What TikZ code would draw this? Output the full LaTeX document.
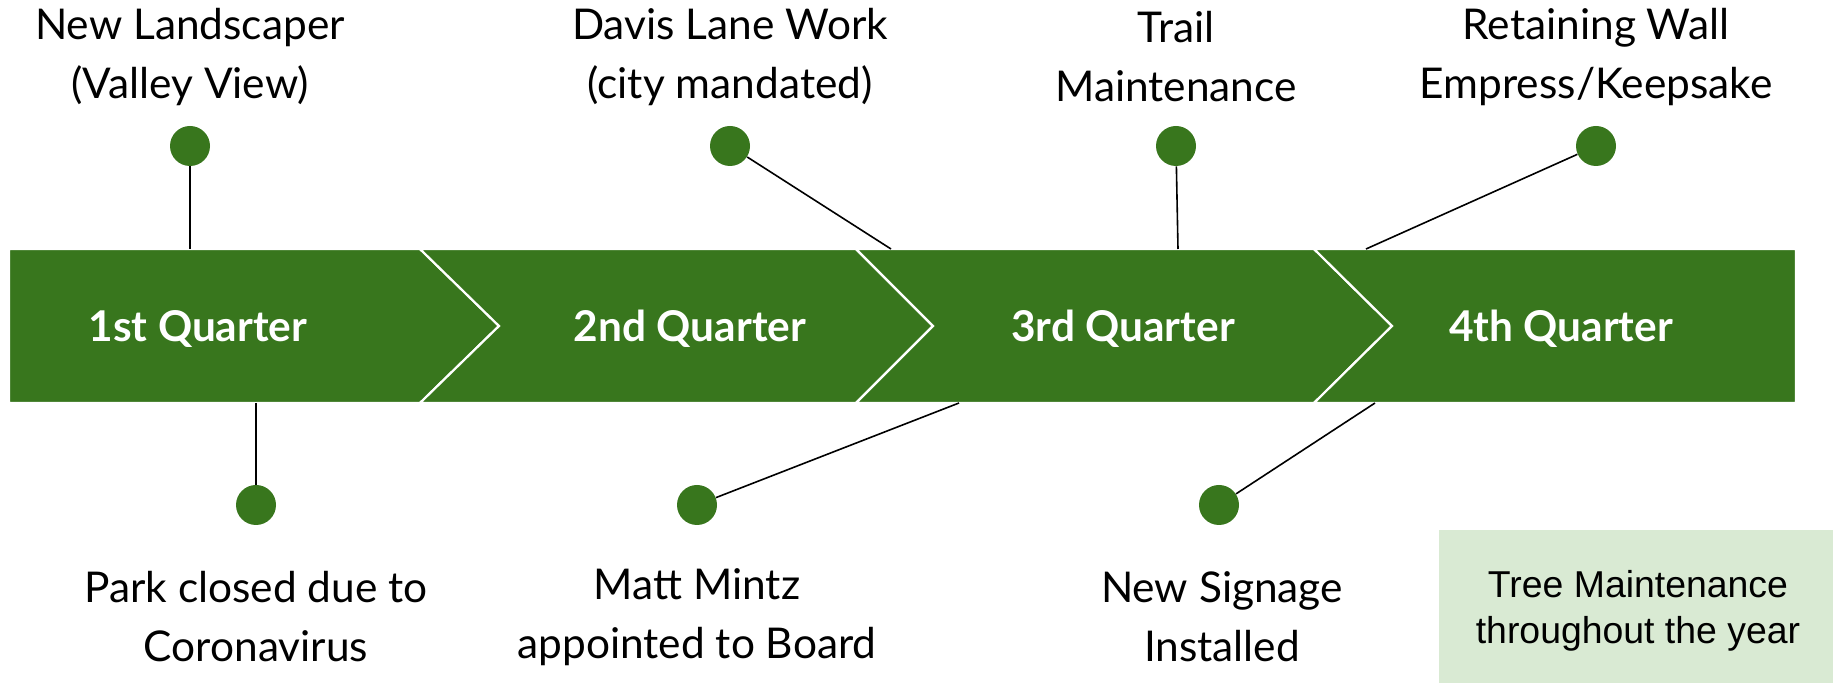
\documentclass[tikz,border=0pt]{standalone}
\usepackage{fontspec}
\setmainfont{Lato}
\newfontfamily\boxfont{Liberation Sans}
\definecolor{qgreen}{HTML}{38761D}
\definecolor{qlight}{HTML}{D9EAD3}

\begin{document}
\begin{tikzpicture}[x=0.5pt,y=0.5pt,yscale=-1,xscale=1,
  seg/.style={fill=qgreen,draw=white,line width=1.1pt,line join=miter},
  dot/.style={circle,fill=qgreen,inner sep=0pt,minimum size=20pt},
  evt/.style={align=center,inner sep=0pt,font=\fontsize{21.2}{29.5}\selectfont},
  qtr/.style={text=white,inner sep=0pt,font=\fontsize{21.2}{26}\selectfont\bfseries},
  tick/.style={line width=0.8pt}]
\useasboundingbox (0,0) rectangle (1833,683);

%Shape: Chevron [1st]
\draw [seg] (9,249) -- (420,249) -- (499,326) -- (420,403) -- (9,403) -- cycle ;
%Shape: Chevron [2nd]
\draw [seg] (420,249) -- (856,249) -- (933,326) -- (856,403) -- (420,403) -- (499,326) -- cycle ;
%Shape: Chevron [3rd]
\draw [seg] (856,249) -- (1314,249) -- (1392,326) -- (1314,403) -- (856,403) -- (933,326) -- cycle ;
%Shape: Chevron [4th]
\draw [seg] (1314,249) -- (1796,249) -- (1796,403) -- (1314,403) -- (1392,326) -- cycle ;

%Shape: Rectangle [tree box]
\fill [qlight] (1439,530) rectangle (1833,683) ;

%Points on the band
\coordinate (topA) at (190,249) ;
\coordinate (topB) at (891,249) ;
\coordinate (topC) at (1178,249) ;
\coordinate (topD) at (1366,249) ;
\coordinate (botA) at (256,403) ;
\coordinate (botB) at (959,403) ;
\coordinate (botC) at (1375,403) ;

%Shape: Circle
\draw (190,146) node (dotA) [dot] {} ;
\draw (730,146) node (dotB) [dot] {} ;
\draw (1176,146) node (dotC) [dot] {} ;
\draw (1596,146) node (dotD) [dot] {} ;
\draw (256,505) node (dotE) [dot] {} ;
\draw (697,505) node (dotF) [dot] {} ;
\draw (1219,505) node (dotG) [dot] {} ;

%Straight Lines
\draw [tick] (dotA) -- (topA) ;
\draw [tick] (dotB) -- (topB) ;
\draw [tick] (dotC) -- (topC) ;
\draw [tick] (dotD) -- (topD) ;
\draw [tick] (botA) -- (dotE) ;
\draw [tick] (botB) -- (dotF) ;
\draw [tick] (botC) -- (dotG) ;

% Text Node
\draw (198,329) node (qA) [qtr] {1st Quarter};
% Text Node
\draw (690,329) node (qB) [qtr] {2nd Quarter};
% Text Node
\draw (1123,329) node (qC) [qtr] {3rd Quarter};
% Text Node
\draw (1561,329) node (qD) [qtr] {4th Quarter};

% Text Node
\draw (190,57) node (lblA) [evt] {New Landscaper\\(Valley View)};
% Text Node
\draw (730,57) node (lblB) [evt] {Davis Lane Work\\(city mandated)};
% Text Node
\draw (1176,57) node (lblC) [evt] {Trail\\Maintenance};
% Text Node
\draw (1596,57) node (lblD) [evt] {Retaining Wall\\Empress/Keepsake};
% Text Node
\draw (256,617) node (lblE) [evt] {Park closed due to\\Coronavirus};
% Text Node
\draw (697,617) node (lblF) [evt] {Matt Mintz\\appointed to Board};
% Text Node
\draw (1222,617) node (lblG) [evt] {New Signage\\Installed};

% Text Node
\draw (1638,611) node (tree) [align=center,inner sep=0pt,font=\boxfont\fontsize{18.7}{23}\selectfont] {Tree Maintenance\\throughout the year};

\end{tikzpicture}
\end{document}
